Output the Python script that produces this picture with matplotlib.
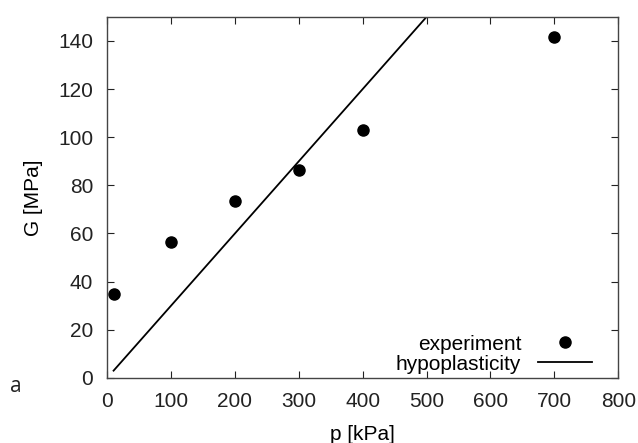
import matplotlib
matplotlib.use("Agg")
import matplotlib.pyplot as plt

# experiment data
p_exp = [10, 100, 200, 300, 400, 700]
G_exp = [35, 56.5, 73.5, 86.5, 103, 141.5]

# hypoplasticity prediction (straight line)
p_hyp = [10, 500]
G_hyp = [3, 150]

xticks = [0, 100, 200, 300, 400, 500, 600, 700, 800]
yticks = [0, 20, 40, 60, 80, 100, 120, 140]

plt.rcParams['font.family'] = ['Liberation Sans', 'DejaVu Sans']

fig = plt.figure(figsize=(6.38, 4.43), dpi=100)
ax = fig.add_axes([0.168, 0.147, 0.801, 0.815])

ax.plot(p_exp, G_exp, 'o', color='black', markersize=8, label='experiment')
ax.plot(p_hyp, G_hyp, '-', color='black', linewidth=1.3, label='hypoplasticity')

ax.set_xlim(0, 800)
ax.set_ylim(0, 150)
ax.set_xticks(xticks)
ax.set_yticks(yticks)
ax.tick_params(direction='in', top=True, right=True, length=5, labelsize=15,
               colors='#222222', pad=10)
for s in ax.spines.values():
    s.set_color('#444444')
    s.set_linewidth(1.0)

ax.set_xlabel('p [kPa]', fontsize=15, labelpad=10)
ax.set_ylabel('G [MPa]', fontsize=15, labelpad=11)

ax.legend(loc='lower right', bbox_to_anchor=(0.949, 0.012), frameon=False,
          markerfirst=False, fontsize=15, handlelength=2.6, borderaxespad=0,
          borderpad=0, labelspacing=0.05, handletextpad=0.8)

fig.text(0.015, 0.115, 'a', fontsize=15, family='Open Sans', color='#222222')

fig.savefig('out.png', dpi=100)
